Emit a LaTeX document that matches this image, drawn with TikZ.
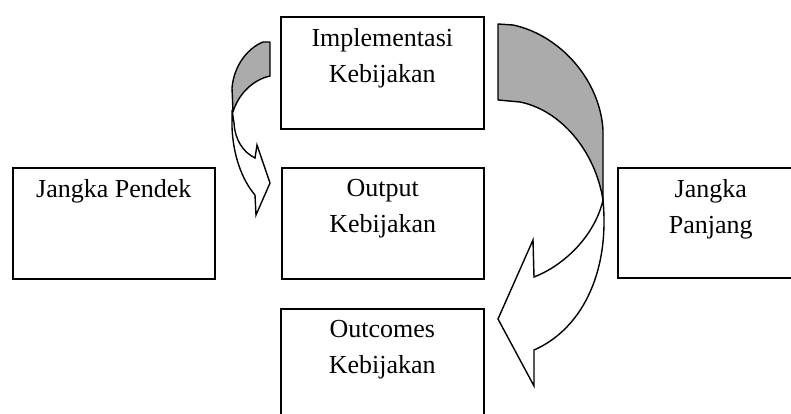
\documentclass[tikz,border=0pt]{standalone}
\usepackage{fontspec}
\setmainfont{Liberation Serif}
\begin{document}
\begin{tikzpicture}[x=1pt,y=-1pt,
  boxstyle/.style={draw=black,line width=1.6pt,rectangle,anchor=north west,inner sep=0pt},
  labelstyle/.style={anchor=north,inner sep=0pt,align=center,font=\fontsize{26}{36}\selectfont},
  backface/.style={fill=black!33,draw=black,line width=1.4pt,line join=round},
  frontface/.style={fill=white,draw=black,line width=1.4pt,line join=miter}]
\useasboundingbox (0,0) rectangle (791,414);
\clip (0,0) rectangle (791,414);
\fill[white] (0,0) rectangle (791,414);

% boxes
\node[boxstyle,minimum width=203pt,minimum height=112pt] (impl) at (280,16) {};
\node[boxstyle,minimum width=202pt,minimum height=111pt] (outp) at (281,167) {};
\node[boxstyle,minimum width=203pt,minimum height=125pt] (outc) at (280,308) {};
\node[boxstyle,minimum width=202pt,minimum height=111pt] (pendek) at (12,167) {};
\node[boxstyle,minimum width=190pt,minimum height=110pt] (panjang) at (617,167) {};

% labels
\node[labelstyle] (implt) at ([yshift=-12pt]impl.north) {Implementasi\\Kebijakan};
\node[labelstyle] (outpt) at ([yshift=-12pt]outp.north) {Output\\Kebijakan};
\node[labelstyle] (outct) at ([yshift=-12pt]outc.north) {Outcomes\\Kebijakan};
\node[labelstyle] (pendekt) at ([yshift=-12pt]pendek.north) {Jangka Pendek};
\node[labelstyle] (panjangt) at ([xshift=-2pt,yshift=-12pt]panjang.north) {Jangka\\Panjang};

% small curved arrow (left)
\draw[backface] (263,42) -- (270,42) -- (270,76)
  .. controls (252,80) and (238,95) .. (233,112)
  -- (232,88) .. controls (234,65) and (248,48) .. (263,42) -- cycle;
\draw[frontface] (232,110) -- (232,127)
  .. controls (233,155) and (242,180) .. (255,195)
  -- (256,215) -- (270,183) -- (257,145) -- (255,158)
  .. controls (243,152) and (235,140) .. (234,123) -- cycle;

% big curved arrow (right)
\draw[backface] (498,24) -- (513,25)
  .. controls (560,35) and (600,80) .. (603,130)
  -- (603,200)
  .. controls (595,150) and (560,110) .. (520,102)
  -- (498,100) -- cycle;
\draw[frontface] (603,200)
  .. controls (610,275) and (580,330) .. (534,350)
  -- (534,386) -- (498,319) -- (533,240) -- (534,277)
  .. controls (565,265) and (595,235) .. (603,200) -- cycle;
\end{tikzpicture}
\end{document}
